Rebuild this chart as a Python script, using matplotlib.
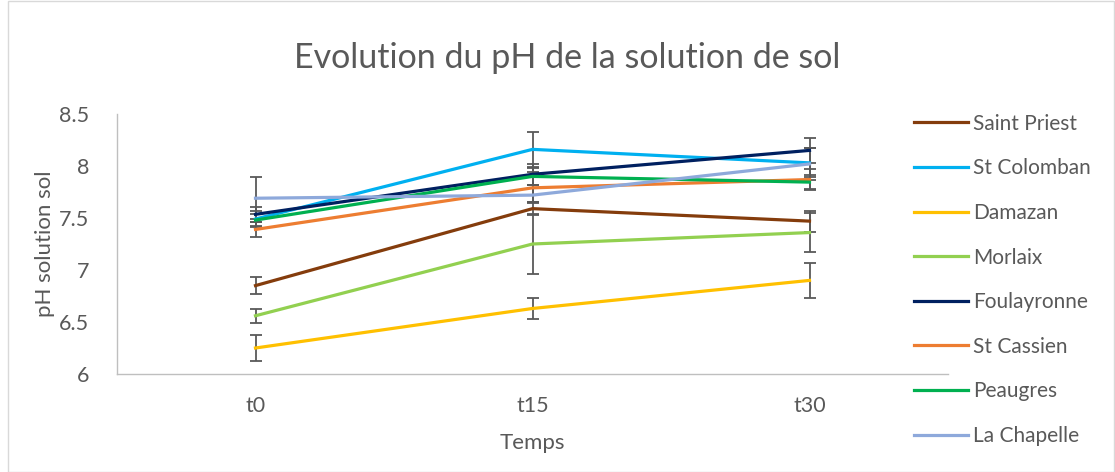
import matplotlib.pyplot as plt
import numpy as np

plt.rcParams['font.family'] = ['Lato', 'DejaVu Sans']

temps = ['t0', 't15', 't30']
sites = ['Saint Priest', 'St Colomban', 'Damazan', 'Morlaix',
         'Foulayronne', 'St Cassien', 'Peaugres', 'La Chapelle']
couleurs = ['#843C0C', '#00B0F0', '#FFC000', '#92D050',
            '#002060', '#ED7D31', '#00B050', '#8EA9DB']

saint_priest = [6.85, 7.59, 7.47]
st_colomban = [7.49, 8.16, 8.03]
damazan = [6.25, 6.63, 6.90]
morlaix = [6.56, 7.25, 7.36]
foulayronne = [7.535, 7.92, 8.15]
st_cassien = [7.39, 7.79, 7.87]
peaugres = [7.48, 7.90, 7.845]
la_chapelle = [7.69, 7.72, 8.02]

err_saint_priest = [0.08, 0.06, 0.10]
err_st_colomban = [0.08, 0.17, 0.14]
err_damazan = [0.125, 0.10, 0.17]
err_morlaix = [0.065, 0.29, 0.19]
err_foulayronne = [0.07, 0.10, 0.12]
err_st_cassien = [0.07, 0.15, 0.10]
err_peaugres = [0.06, 0.08, 0.07]
err_la_chapelle = [0.20, 0.07, 0.15]

valeurs = [saint_priest, st_colomban, damazan, morlaix,
           foulayronne, st_cassien, peaugres, la_chapelle]
erreurs = [err_saint_priest, err_st_colomban, err_damazan, err_morlaix,
           err_foulayronne, err_st_cassien, err_peaugres, err_la_chapelle]

gris = '#595959'

fig = plt.figure(figsize=(11.15, 4.72), dpi=100)
ax = fig.add_axes([117/1115, 1 - 374/472, (948-117)/1115, (374-114)/472])

x = np.arange(len(temps))
for nom, c, v, e in zip(sites, couleurs, valeurs, erreurs):
    ax.errorbar(x, v, yerr=e, color=c, lw=2.3, label=nom,
                ecolor=gris, elinewidth=1.3, capsize=4.5, capthick=1.3)

ax.set_xlim(-0.5, 2.5)
ax.set_ylim(6, 8.5)
ax.set_xticks(x)
ax.set_xticklabels(temps)
ax.set_yticks([6, 6.5, 7, 7.5, 8, 8.5])
ax.set_yticklabels(['6', '6.5', '7', '7.5', '8', '8.5'])
ax.tick_params(length=0, labelsize=15.5, labelcolor=gris)
ax.tick_params(axis='y', pad=20)
ax.tick_params(axis='x', pad=16)
for s in ['top', 'right']:
    ax.spines[s].set_visible(False)
for s in ['left', 'bottom']:
    ax.spines[s].set_color('#BFBFBF')
    ax.spines[s].set_linewidth(1)

ax.set_ylabel('pH solution sol', fontsize=16, color=gris, labelpad=3)
ax.set_xlabel('Temps', fontsize=16, color=gris, labelpad=12)
fig.text(0.509, 1 - 58/472, 'Evolution du pH de la solution de sol',
         fontsize=24.5, color=gris, ha='center', va='center')

handles, labels = ax.get_legend_handles_labels()
handles = [h[0] for h in handles]
leg = fig.legend(handles, labels, loc='upper left',
                 bbox_to_anchor=(895/1115, 1 - 95/472), frameon=False,
                 fontsize=15, handlelength=2.6, handletextpad=0.25,
                 labelspacing=1.18, labelcolor=gris)

fig.patches.append(plt.Rectangle((8/1115, 0), 1 - 9/1115, 1 - 1/472,
                                 transform=fig.transFigure, fill=False,
                                 edgecolor='#D9D9D9', lw=1))

fig.savefig('out.png', dpi=100)
